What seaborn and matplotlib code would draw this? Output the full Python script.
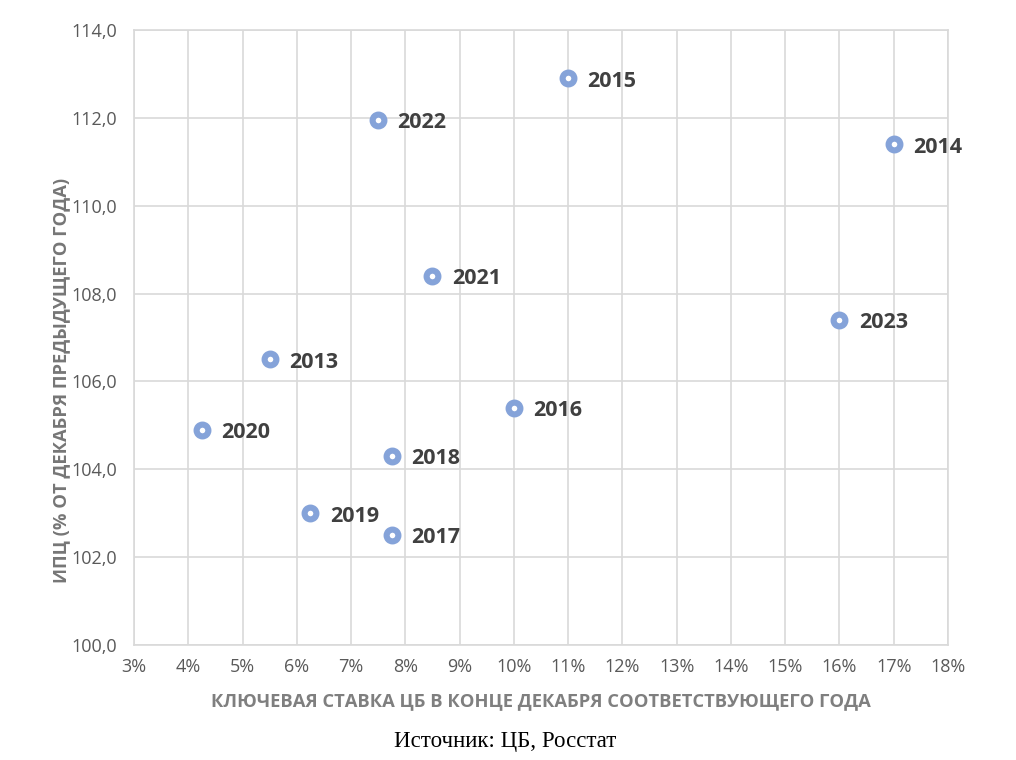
import pandas as pd
import matplotlib.pyplot as plt
import seaborn as sns
from matplotlib.ticker import FuncFormatter, MultipleLocator

# data
years = ['2013', '2014', '2015', '2016', '2017', '2018', '2019', '2020', '2021', '2022', '2023']
key_rate = [5.5, 17.0, 11.0, 10.0, 7.75, 7.75, 6.25, 4.25, 8.5, 7.5, 16.0]
cpi = [106.5, 111.4, 112.9, 105.4, 102.5, 104.3, 103.0, 104.9, 108.4, 111.95, 107.4]

df = pd.DataFrame({'year': years, 'rate': key_rate, 'cpi': cpi})

sns.set_style('white')
plt.rcParams['font.family'] = ['Open Sans', 'DejaVu Sans']

fig = plt.figure(figsize=(10.16, 7.6), dpi=100)
ax = fig.add_axes([0.1319, 0.1513, 0.8012, 0.8092])

blue = '#85a3d9'
sns.scatterplot(data=df, x='rate', y='cpi', ax=ax, s=72, marker='o',
                facecolor='white', edgecolor=blue, linewidth=4.4, zorder=3)

for yr, xv, yv in zip(years, key_rate, cpi):
    ax.annotate(yr, (xv, yv), xytext=(14, -2), textcoords='offset points',
                fontsize=15.5, fontweight='bold', color='#404040',
                va='center', ha='left')

ax.set_xlim(3, 18)
ax.set_ylim(100, 114)
ax.xaxis.set_major_locator(MultipleLocator(1))
ax.yaxis.set_major_locator(MultipleLocator(2))
ax.xaxis.set_major_formatter(FuncFormatter(lambda v, p: f'{v:.0f}%'))
ax.yaxis.set_major_formatter(FuncFormatter(lambda v, p: f'{v:.1f}'.replace('.', ',')))
ax.tick_params(axis='both', labelsize=13, colors='#595959', length=0)
ax.tick_params(axis='y', pad=12)
ax.tick_params(axis='x', pad=9)
ax.grid(True, color='#d9d9d9', linewidth=1.2)
for s in ax.spines.values():
    s.set_color('#d9d9d9')
    s.set_linewidth(1.2)

ax.set_xlabel('КЛЮЧЕВАЯ СТАВКА ЦБ В КОНЦЕ ДЕКАБРЯ СООТВЕТСТВУЮЩЕГО ГОДА',
              fontsize=13.2, fontweight='bold', color='#7f7f7f', labelpad=12)
ax.set_ylabel('ИПЦ (% ОТ ДЕКАБРЯ ПРЕДЫДУЩЕГО ГОДА)',
              fontsize=13.2, fontweight='bold', color='#767676')
ax.yaxis.set_label_coords(-0.079, 0.431)

fig.text(0.497, 0.0237, 'Источник: ЦБ, Росстат', ha='center', va='center',
         fontsize=16.5, family=['Liberation Serif', 'DejaVu Serif'], color='black')

fig.savefig('out.png', dpi=100)
